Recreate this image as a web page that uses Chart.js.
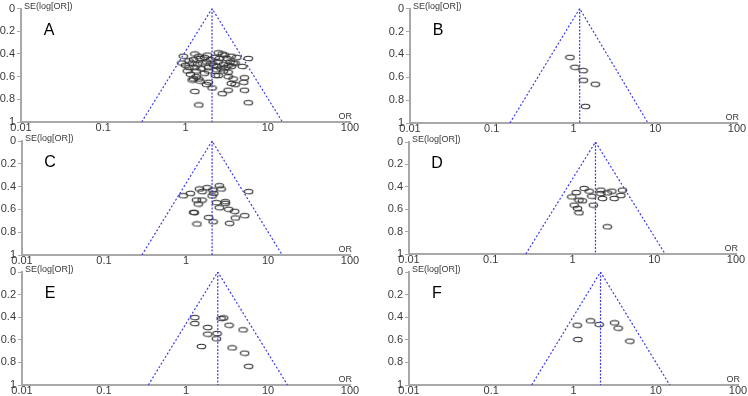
<!DOCTYPE html>
<html>
<head>
<meta charset="utf-8">
<script src="https://cdn.jsdelivr.net/npm/chart.js@4"></script>
<style>
html, body { margin: 0; padding: 0; background: #fff; }
#wrap { position: relative; width: 748px; height: 396px; overflow: hidden; }
#wrap canvas { position: absolute; }
</style>
</head>
<body>
<div id="wrap"></div>
<script>
// funnel plots A-F: x = OR (log), y = SE(log[OR]) reversed
const panelLabels = ["A", "B", "C", "D", "E", "F"];
const xTicks = [0.01, 0.1, 1, 10, 100];
const yTicks = [0, 0.2, 0.4, 0.6, 0.8, 1];

const pooledOR = [2.1, 1.19, 2.08, 1.91, 2.44, 2.13];
const funnelLow = [0.293, 0.167, 0.29, 0.268, 0.347, 0.31];
const funnelHigh = [15.1, 8.15, 14.9, 13.6, 17.3, 14.8];

const orA = [0.94, 1.3, 1.45, 1.85, 2.5, 2.8, 3.0, 3.6, 4.2, 5.8,
  0.9, 1.1, 1.25, 1.5, 1.7, 2.0, 2.3, 2.6, 3.2, 3.5, 4.0,
  1.0, 1.2, 1.4, 1.6, 1.8, 2.1, 2.2, 2.5, 2.9, 3.3, 3.8, 4.9,
  1.1, 1.3, 1.55, 1.9, 2.4, 2.7, 3.1, 3.6,
  1.05, 1.35, 1.7, 1.9, 2.4, 2.9, 3.3,
  1.15, 1.35, 1.25, 1.45, 2.3, 2.5, 3.3, 3.8, 5.2,
  1.2, 1.5, 1.9, 1.8, 3.6, 4.0, 5.1,
  2.1, 5.2, 3.3, 1.3, 2.8, 5.8, 1.45];
const seA = [0.42, 0.40, 0.42, 0.41, 0.39, 0.40, 0.41, 0.42, 0.43, 0.44,
  0.48, 0.46, 0.45, 0.44, 0.43, 0.45, 0.43, 0.44, 0.44, 0.47, 0.48,
  0.50, 0.48, 0.49, 0.48, 0.47, 0.48, 0.50, 0.47, 0.49, 0.50, 0.48, 0.51,
  0.52, 0.52, 0.53, 0.52, 0.51, 0.53, 0.52, 0.51,
  0.55, 0.55, 0.57, 0.55, 0.54, 0.55, 0.56,
  0.58, 0.60, 0.62, 0.62, 0.59, 0.59, 0.60, 0.62, 0.61,
  0.63, 0.64, 0.65, 0.67, 0.66, 0.67, 0.65,
  0.70, 0.72, 0.72, 0.73, 0.75, 0.83, 0.85];

const orB = [0.905, 1.04, 1.31, 1.32, 1.85, 1.40];
const seB = [0.426, 0.513, 0.542, 0.626, 0.661, 0.855];

const orC = [0.925, 1.13, 1.46, 1.57, 1.81, 2.12, 2.18, 2.08, 2.55, 2.68, 5.8,
  1.34, 1.57, 1.41, 2.35, 3.02, 3.02, 2.55, 3.31, 3.92, 1.24, 1.26,
  4.0, 5.19, 1.89, 2.14, 1.36, 3.4];
const seC = [0.48, 0.459, 0.421, 0.444, 0.409, 0.43, 0.459, 0.482, 0.392, 0.421, 0.444,
  0.518, 0.518, 0.553, 0.541, 0.532, 0.547, 0.585, 0.599, 0.617, 0.626, 0.628,
  0.675, 0.655, 0.672, 0.708, 0.728, 0.722];

const orD = [1.39, 1.6, 1.11, 0.98, 1.2, 1.32, 1.72, 2.22, 2.22, 2.67,
  3.03, 4.08, 3.9, 3.23, 2.32, 1.05, 1.15, 1.8, 1.2, 2.67];
const seD = [0.415, 0.439, 0.451, 0.49, 0.519, 0.525, 0.484, 0.43, 0.46, 0.454,
  0.439, 0.43, 0.477, 0.504, 0.504, 0.564, 0.593, 0.564, 0.632, 0.757];

const orE = [1.28, 1.28, 1.84, 1.84, 1.54, 2.39, 2.35, 2.68, 2.88, 3.35, 4.96, 3.65, 5.19, 5.8];
const seE = [0.403, 0.456, 0.491, 0.55, 0.659, 0.544, 0.591, 0.412, 0.406, 0.471, 0.512, 0.671, 0.718, 0.835];

const orF = [1.11, 1.13, 1.61, 2.05, 3.16, 3.49, 4.84];
const seF = [0.471, 0.597, 0.432, 0.465, 0.45, 0.497, 0.612];

const panelOR = [orA, orB, orC, orD, orE, orF];
const panelSE = [seA, seB, seC, seD, seE, seF];

// canvas position/height + plot area box inside each canvas
const geom = [
  { x: 0,   y: 0,   h: 140, left: 21, right: 350, top: 7,  bottom: 122 },
  { x: 374, y: 0,   h: 140, left: 36, right: 363, top: 7,  bottom: 123 },
  { x: 0,   y: 130, h: 140, left: 22, right: 350, top: 11, bottom: 125 },
  { x: 374, y: 130, h: 140, left: 35, right: 362, top: 12, bottom: 124 },
  { x: 0,   y: 262, h: 134, left: 22, right: 350, top: 10, bottom: 123 },
  { x: 374, y: 262, h: 134, left: 35, right: 364, top: 10, bottom: 123 }
];
const W = 374;
const fam = "'Liberation Sans', Arial, sans-serif";
const axisGrey = "#a8a8a8";
const textGrey = "#3a3a3a";
const funnelBlue = "#3b3bf0";

// small hollow ellipse marker
const ell = document.createElement("canvas");
ell.width = 11; ell.height = 7;
(function () {
  const c = ell.getContext("2d");
  c.strokeStyle = "#333";
  c.lineWidth = 1.1;
  c.beginPath();
  c.ellipse(5.5, 3.5, 4.3, 2.3, 0, 0, Math.PI * 2);
  c.stroke();
})();

const panelText = {
  id: "panelText",
  afterDraw(chart, args, opts) {
    const { ctx, chartArea: a } = chart;
    ctx.save();
    ctx.fillStyle = textGrey;
    ctx.font = "9px " + fam;
    ctx.textAlign = "left";
    ctx.textBaseline = "middle";
    ctx.fillText("SE(log[OR])", a.left + 3, a.top - 2);
    ctx.textAlign = "right";
    ctx.fillText("OR", a.right + 2, a.bottom - 5);
    ctx.fillStyle = "#000";
    ctx.font = "16px " + fam;
    ctx.textAlign = "center";
    ctx.fillText(opts.letter, a.left + 28, a.top + 22);
    ctx.restore();
  }
};

const wrap = document.getElementById("wrap");

panelLabels.forEach((letter, i) => {
  const g = geom[i];
  const cv = document.createElement("canvas");
  cv.width = W; cv.height = g.h;
  cv.style.left = g.x + "px";
  cv.style.top = g.y + "px";
  wrap.appendChild(cv);

  const pts = panelOR[i].map((v, k) => ({ x: v, y: panelSE[i][k] }));

  new Chart(cv, {
    type: "scatter",
    data: {
      datasets: [
        {
          data: [{ x: funnelLow[i], y: 1 }, { x: pooledOR[i], y: 0 }, { x: funnelHigh[i], y: 1 }],
          showLine: true, borderColor: funnelBlue, borderWidth: 1.2, borderDash: [2, 2],
          pointRadius: 0, fill: false
        },
        {
          data: [{ x: pooledOR[i], y: 0 }, { x: pooledOR[i], y: 1 }],
          showLine: true, borderColor: funnelBlue, borderWidth: 1.2, borderDash: [2, 1.5],
          pointRadius: 0, fill: false
        },
        {
          data: pts,
          pointStyle: ell, pointRadius: 4, showLine: false
        }
      ]
    },
    options: {
      responsive: false,
      animation: false,
      devicePixelRatio: 1,
      layout: { padding: { left: 0, top: g.top, right: W - g.right, bottom: 0 } },
      plugins: {
        legend: { display: false },
        tooltip: { enabled: false },
        panelText: { letter: letter }
      },
      scales: {
        x: {
          type: "logarithmic", min: 0.01, max: 100,
          afterBuildTicks: s => { s.ticks = xTicks.map(v => ({ value: v })); },
          afterFit: s => { s.height = g.h - g.bottom; },
          grid: { display: false, drawTicks: false },
          border: { color: axisGrey, width: 2 },
          ticks: {
            color: textGrey, font: { size: 11, family: fam }, padding: -1,
            maxRotation: 0, autoSkip: false, callback: v => String(v)
          }
        },
        y: {
          type: "linear", reverse: true, min: 0, max: 1,
          afterBuildTicks: s => { s.ticks = yTicks.map(v => ({ value: v })); },
          afterFit: s => { s.width = g.left; },
          grid: { drawOnChartArea: false, drawTicks: true, tickLength: 4, color: axisGrey },
          border: { color: axisGrey, width: 2 },
          ticks: {
            color: textGrey, font: { size: 11, family: fam }, padding: 2,
            callback: v => String(v)
          }
        }
      }
    },
    plugins: [panelText]
  });
});
</script>
</body>
</html>
